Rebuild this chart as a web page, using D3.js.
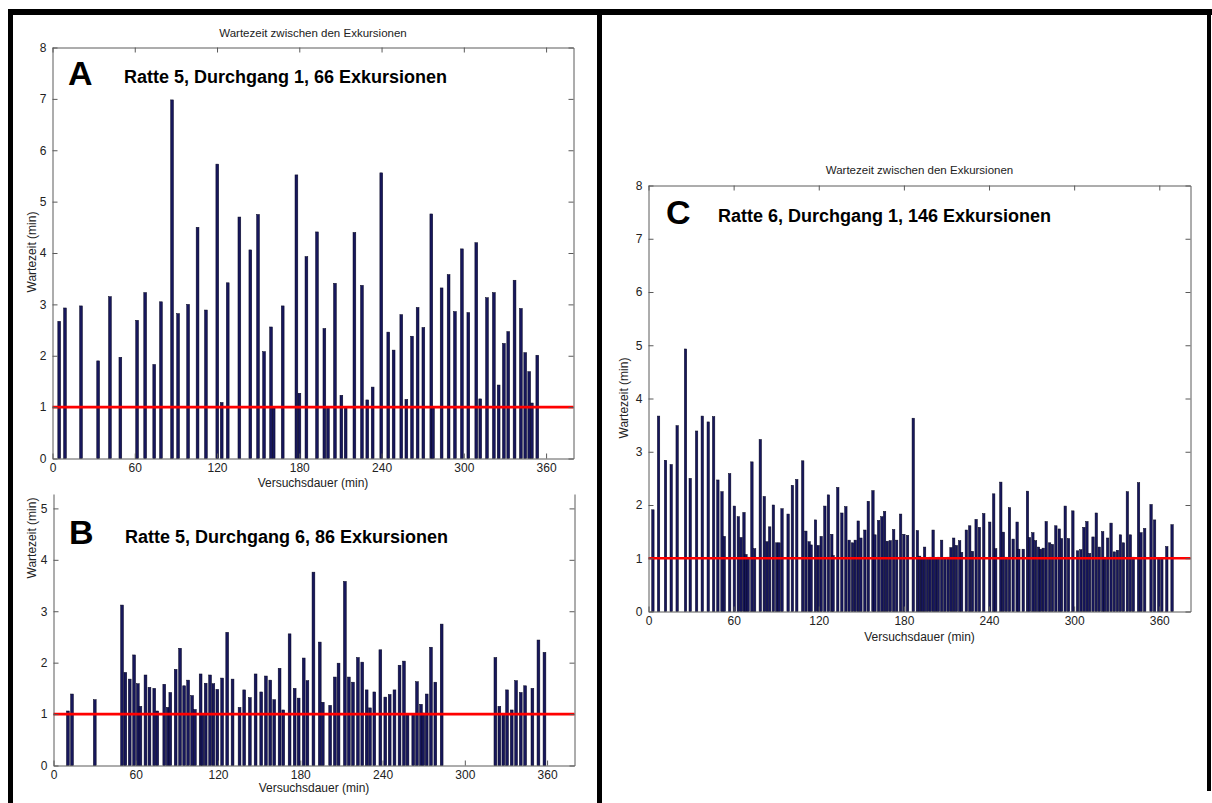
<!DOCTYPE html>
<html>
<head>
<meta charset="utf-8">
<script src="https://cdn.jsdelivr.net/npm/d3@7"></script>
<style>
  body { margin: 0; background: #fff; }
  svg { display: block; }
  text { font-family: "Liberation Sans", Arial, Helvetica, sans-serif; }
</style>
</head>
<body>
<svg id="fig" width="1212" height="803"></svg>
<script>
// Versuchszeitpunkt (min) und Wartezeit bis zur nächsten Exkursion (min)

// Ratte 5, Durchgang 1 (66 Exkursionen)
const r5d1Time = [4.9, 9.1, 20.8, 33.3, 41.9, 49.5, 61.7, 67.6, 74.2, 79.1, 87.2, 91.6, 98.9, 105.8, 111.9,
  120.2, 123.4, 127.8, 136.3, 144.3, 149.9, 154.3, 159.4, 161.3, 167.9, 177.9, 180.1, 185.2, 192.9, 198.3,
  200.9, 206.0, 210.7, 213.8, 220.2, 225.7, 229.6, 233.5, 239.8, 244.9, 248.8, 254.4, 258.1, 262.2, 266.3,
  270.5, 276.3, 277.5, 283.8, 288.9, 293.5, 298.6, 303.3, 309.1, 312.0, 316.9, 321.9, 325.4, 329.2, 332.4,
  337.0, 341.6, 344.8, 347.7, 349.6, 353.6];
const r5d1Wait = [2.67, 2.93, 2.97, 1.90, 3.15, 1.97, 2.69, 3.23, 1.83, 3.05, 6.98, 2.82, 3.00, 4.50, 2.89,
  5.73, 1.09, 3.42, 4.70, 4.06, 4.75, 2.08, 2.56, 1.01, 2.97, 5.52, 1.27, 3.93, 4.41, 2.53,
  1.01, 3.41, 1.23, 1.01, 4.40, 3.37, 1.14, 1.39, 5.56, 2.46, 2.11, 2.80, 1.15, 2.38, 2.94,
  2.55, 4.76, 1.01, 3.32, 3.58, 2.86, 4.08, 2.84, 4.20, 1.16, 3.13, 3.23, 1.43, 2.24, 2.47,
  3.47, 2.92, 2.06, 1.69, 1.08, 2.01];

// Ratte 5, Durchgang 6 (86 Exkursionen)
const r5d6Time = [10.5, 13.5, 30.1, 50.0, 52.4, 55.6, 58.8, 61.5, 63.4, 67.1, 70.0, 73.5, 75.7, 80.8, 83.3,
  85.2, 89.1, 92.3, 95.3, 98.2, 101.1, 103.1, 107.3, 108.6, 111.0, 114.2, 116.6, 119.5, 123.0, 126.7,
  130.6, 135.7, 139.1, 143.2, 147.4, 151.5, 154.9, 158.1, 161.0, 164.9, 167.6, 172.2, 175.9, 178.8, 182.5,
  185.2, 189.6, 194.2, 196.4, 201.8, 205.2, 207.9, 212.5, 215.4, 218.4, 222.0, 225.2, 228.4, 230.8, 234.0,
  238.4, 242.0, 245.2, 248.7, 252.4, 255.6, 258.2, 262.4, 265.1, 268.0, 269.7, 272.2, 275.3, 278.5, 283.1,
  322.3, 325.2, 328.1, 330.8, 334.2, 337.4, 340.8, 344.0, 349.3, 353.7, 358.1];
const r5d6Wait = [1.06, 1.39, 1.28, 3.12, 1.81, 1.68, 2.15, 1.59, 1.15, 1.76, 1.52, 1.50, 1.06, 1.58, 1.13,
  1.42, 1.87, 2.28, 1.55, 1.66, 1.36, 1.09, 1.78, 0.99, 1.60, 1.76, 1.59, 1.48, 1.70, 2.59,
  1.68, 1.13, 1.47, 1.32, 1.78, 1.43, 1.74, 1.66, 1.28, 1.89, 1.08, 2.56, 1.50, 1.31, 2.09,
  1.65, 3.76, 2.40, 1.23, 1.17, 1.72, 1.99, 3.58, 1.72, 1.62, 2.10, 2.01, 1.47, 1.12, 1.43,
  2.25, 1.33, 1.38, 1.47, 1.95, 2.03, 1.01, 1.01, 1.63, 1.19, 1.02, 1.39, 2.30, 1.62, 2.75,
  2.10, 1.15, 1.01, 1.47, 1.08, 1.65, 1.42, 1.55, 1.50, 2.44, 2.20];

// Ratte 6, Durchgang 1 (146 Exkursionen)
const r6d1Time = [3.1, 7.1, 12.0, 16.0, 20.2, 26.1, 29.4, 33.9, 37.9, 42.1, 45.9, 48.9, 51.8, 53.4, 57.2,
  60.5, 63.3, 65.2, 67.3, 68.7, 70.2, 72.9, 74.8, 78.8, 81.6, 83.5, 85.4,
  88.0, 90.4, 92.0, 94.1, 98.4, 101.4, 104.5, 108.7, 110.9, 113.2, 114.6, 117.7, 119.6, 121.7, 124.3,
  126.8, 129.2, 130.1, 133.4, 136.3, 139.1, 141.4, 143.8, 145.7, 147.8, 149.7, 152.5, 154.9, 158.2, 159.6,
  162.2, 164.5, 166.4, 168.3, 170.4, 172.8, 174.9, 177.7, 180.0, 182.6,
  186.6, 189.5, 191.1, 192.9, 194.6, 196.6, 198.5, 200.6, 202.5, 204.3, 206.6, 208.8, 211.1, 213.2, 215.1,
  217.0, 219.3, 220.7, 224.0, 226.4, 228.3, 230.9, 233.2, 236.3, 240.5, 243.3, 244.7, 248.3, 250.1, 252.2,
  254.4, 257.0, 259.8, 261.0, 264.1, 267.1, 268.5, 270.9, 272.8, 274.9, 276.3, 278.2, 280.3, 282.7,
  284.7, 287.1, 289.5, 291.1, 293.7, 296.0, 299.1, 302.4, 304.7, 306.9, 309.0, 310.9, 313.3, 315.6, 317.7,
  320.1, 321.5, 323.6, 326.0, 328.3, 330.5, 332.6, 334.7, 337.5, 339.6, 341.7, 345.4, 347.1, 349.7, 354.2,
  356.7, 359.6, 361.8, 365.3, 369.0];
const r6d1Wait = [1.91, 3.67, 2.84, 2.76, 3.49, 4.93, 2.50, 3.39, 3.67, 3.56, 3.66, 2.47, 2.25, 1.41, 2.59,
  1.98, 1.78, 1.39, 1.86, 1.07, 1.02, 2.81, 1.18, 3.23, 2.16, 1.31, 1.59,
  2.00, 1.29, 1.29, 1.93, 1.83, 2.37, 2.48, 2.83, 1.51, 1.31, 1.25, 1.72, 1.24, 1.41, 1.98,
  2.19, 1.45, 1.05, 2.33, 1.85, 1.97, 1.34, 1.29, 1.34, 1.70, 1.38, 1.53, 2.07, 2.27, 1.44,
  1.71, 1.78, 1.88, 1.32, 1.33, 1.54, 1.34, 1.83, 1.45, 1.43,
  3.63, 1.52, 1.04, 1.01, 1.21, 1.01, 1.02, 1.53, 1.01, 1.02, 1.34, 1.01, 1.02, 1.20, 1.38,
  1.24, 1.33, 1.11, 1.53, 1.61, 1.13, 1.73, 1.58, 1.84, 1.68, 2.21, 1.18, 2.43, 1.49, 1.02,
  1.95, 1.36, 1.68, 1.17, 1.17, 2.26, 1.39, 1.48, 1.33, 1.21, 1.17, 1.19, 1.69, 1.29,
  1.26, 1.61, 1.55, 1.37, 1.98, 1.37, 1.89, 1.14, 1.16, 1.58, 1.69, 1.09, 1.40, 1.85, 1.21,
  1.50, 1.02, 1.38, 1.66, 1.12, 1.15, 1.44, 1.29, 2.25, 1.44, 1.02, 2.42, 1.48, 1.56, 2.01,
  1.72, 1.01, 1.01, 1.22, 1.63];

const xTickValues = [0, 60, 120, 180, 240, 300, 360];
const yTicksFull = [0, 1, 2, 3, 4, 5, 6, 7, 8];
const yTicksCut = [0, 1, 2, 3, 4, 5];
const limitMinutes = 1;   // Schwelle: 1 Minute Wartezeit

const plotTitle = "Wartezeit zwischen den Exkursionen";
const xLabel = "Versuchsdauer (min)";
const yLabel = "Wartezeit (min)";

const svg = d3.select("#fig");

// Rahmen um die Abbildung
const frame = svg.append("g").attr("fill", "#000");
frame.append("rect").attr("x", 8).attr("y", 9).attr("width", 1204).attr("height", 6);
frame.append("rect").attr("x", 8).attr("y", 9).attr("width", 5).attr("height", 794);
frame.append("rect").attr("x", 597).attr("y", 9).attr("width", 5).attr("height", 794);
frame.append("rect").attr("x", 1207).attr("y", 9).attr("width", 4).attr("height", 782);

const panels = [
  { time: r5d1Time, wait: r5d1Wait, left: 52.5, right: 573.5, top: 47.5, bottom: 458.5,
    xMax: 380, yMax: 8, yTicks: yTicksFull, closedTop: true, barW: 2.8,
    title: plotTitle, titleY: 37,
    letter: "A", letterX: 68, letterY: 85, caption: "Ratte 5, Durchgang 1, 66 Exkursionen", capX: 124, capY: 83,
    xLabelY: 487, yLabelX: 36, yLabelY: 252 },
  { time: r5d6Time, wait: r5d6Wait, left: 53.5, right: 574.5, top: 494, bottom: 765.5,
    xMax: 380, yMax: 5.28, yTicks: yTicksCut, closedTop: false, barW: 2.8,
    title: null,
    letter: "B", letterX: 69, letterY: 544, caption: "Ratte 5, Durchgang 6, 86 Exkursionen", capX: 125, capY: 543,
    xLabelY: 792, yLabelX: 36, yLabelY: 538 },
  { time: r6d1Time, wait: r6d1Wait, left: 648.5, right: 1190.5, top: 185.5, bottom: 611.5,
    xMax: 382, yMax: 8, yTicks: yTicksFull, closedTop: true, barW: 2.4,
    title: plotTitle, titleY: 174,
    letter: "C", letterX: 666, letterY: 224, caption: "Ratte 6, Durchgang 1, 146 Exkursionen", capX: 718, capY: 222,
    xLabelY: 641, yLabelX: 628, yLabelY: 398 }
];

function drawPanel(p) {
  const g = svg.append("g");
  const x = d3.scaleLinear().domain([0, p.xMax]).range([p.left, p.right]);
  const y = d3.scaleLinear().domain([0, p.yMax]).range([p.bottom, p.top]);

  // Balken
  g.append("g").selectAll("rect")
    .data(d3.zip(p.time, p.wait))
    .join("rect")
    .attr("x", d => x(d[0]) - p.barW / 2)
    .attr("width", p.barW)
    .attr("y", d => y(d[1]))
    .attr("height", d => y(0) - y(d[1]))
    .attr("fill", "#17175c")
    .attr("stroke", "#05051e")
    .attr("stroke-width", 0.5);

  // Schwelle bei 1 min
  g.append("line")
    .attr("x1", x(0)).attr("x2", x(p.xMax))
    .attr("y1", y(limitMinutes)).attr("y2", y(limitMinutes))
    .attr("stroke", "#ff0000").attr("stroke-width", 2.6);

  const styleAxis = sel => {
    sel.selectAll(".domain").attr("stroke", "#5a5a5a");
    sel.selectAll(".tick line").attr("stroke", "#5a5a5a");
    sel.selectAll("text").attr("fill", "#222").style("font-size", "12px")
      .style("font-family", "'Liberation Sans', Arial, sans-serif");
  };

  g.append("g").attr("transform", `translate(0,${p.bottom})`)
    .call(d3.axisBottom(x).tickValues(xTickValues).tickSizeInner(-5).tickSizeOuter(0).tickPadding(5))
    .call(styleAxis);
  g.append("g").attr("transform", `translate(${p.left},0)`)
    .call(d3.axisLeft(y).tickValues(p.yTicks).tickSizeInner(-5).tickSizeOuter(0).tickPadding(6).tickFormat(d3.format("d")))
    .call(styleAxis);
  g.append("g").attr("transform", `translate(${p.right},0)`)
    .call(d3.axisRight(y).tickValues(p.yTicks).tickSizeInner(-5).tickSizeOuter(0).tickFormat(""))
    .call(styleAxis);
  if (p.closedTop) {
    g.append("g").attr("transform", `translate(0,${p.top})`)
      .call(d3.axisTop(x).tickValues(xTickValues).tickSizeInner(-5).tickSizeOuter(0).tickFormat(""))
      .call(styleAxis);
  }

  // Beschriftungen
  const mid = (p.left + p.right) / 2;
  if (p.title) {
    g.append("text").attr("x", mid).attr("y", p.titleY).attr("text-anchor", "middle")
      .style("font-size", "11.5px").attr("fill", "#222").text(p.title);
  }
  g.append("text").attr("x", mid).attr("y", p.xLabelY).attr("text-anchor", "middle")
    .style("font-size", "12px").attr("fill", "#222").text(xLabel);
  g.append("text").attr("transform", `translate(${p.yLabelX},${p.yLabelY}) rotate(-90)`)
    .attr("text-anchor", "middle").style("font-size", "12px").attr("fill", "#222").text(yLabel);
  g.append("text").attr("x", p.letterX).attr("y", p.letterY)
    .style("font-size", "34px").style("font-weight", "bold").attr("fill", "#000").text(p.letter);
  g.append("text").attr("x", p.capX).attr("y", p.capY)
    .style("font-size", "18px").style("font-weight", "bold").attr("fill", "#000").text(p.caption);
}

panels.forEach(drawPanel);
</script>
</body>
</html>
